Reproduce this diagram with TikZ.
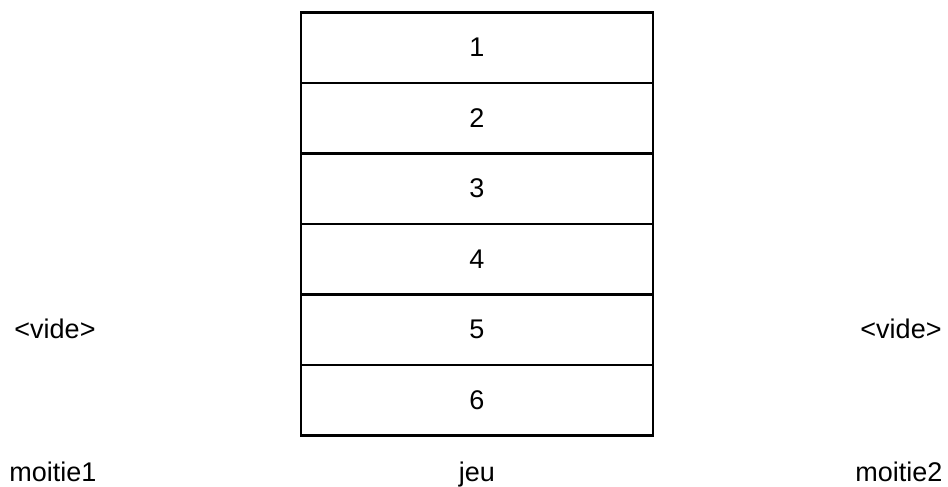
\documentclass[tikz,border=0pt]{standalone}
\usepackage{fontspec}
\setmainfont{Liberation Sans}
\usetikzlibrary{positioning}
\newcommand{\lblfont}{\fontsize{27}{32}\selectfont}

\begin{document}
\begin{tikzpicture}[x=1pt,y=1pt,
    cell/.style={draw,line width=2.2pt,outer sep=0pt,minimum width=352pt,
                 minimum height=70.5pt,inner sep=0pt,font=\lblfont},
    lbl/.style={anchor=base,inner sep=0pt,font=\lblfont}]
  \useasboundingbox (0,0) rectangle (948,487);
  % ---------- jeu : stack of six cards ----------------------------
  \node[cell] (c1) at (477,439.3) {1};
  \foreach \i [remember=\i as \j (initially 1)] in {2,...,6}
    \node[cell,below=0pt of c\j] (c\i) {\i};
  \node[lbl] (jeu) at (477,5) {jeu};
  % ---------- moitie1 / moitie2 : empty halves ---------------------
  \node[lbl] (videun) at (55,148) {<vide>};
  \node[lbl] (moitieun) at (53,5) {moitie1};
  \node[lbl] (videdeux) at (901,148) {<vide>};
  \node[lbl] (moitiedeux) at (899,5) {moitie2};
\end{tikzpicture}
\end{document}
